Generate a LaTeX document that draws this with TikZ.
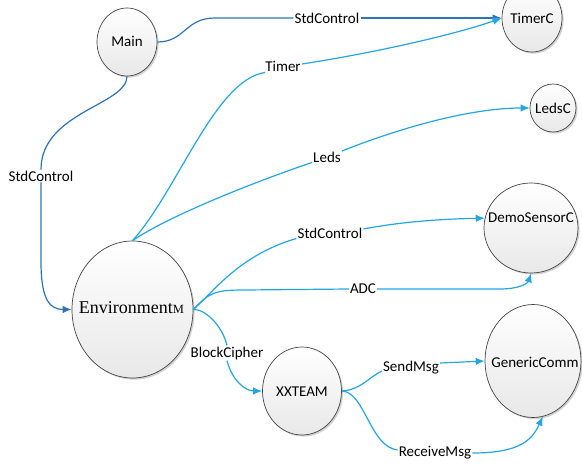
\documentclass[tikz,border=0pt]{standalone}
\usepackage{fontspec}
\setmainfont{Carlito}
\newfontfamily\envfont{Liberation Serif}
\usetikzlibrary{shapes.geometric,arrows.meta,shadows}
\definecolor{wireDark}{RGB}{46,117,182}
\definecolor{wireLight}{RGB}{36,166,226}
\definecolor{rimGray}{RGB}{70,70,70}
\tikzset{
  comp/.style={ellipse, draw=rimGray, line width=0.7pt, inner sep=0pt,
    top color=white, bottom color=black!9,
    drop shadow={shadow xshift=1.6pt, shadow yshift=-1.6pt, opacity=0.18, fill=black}},
  caption/.style={font=\fontsize{15}{18}\selectfont, inner sep=0pt},
  wlabel/.style={font=\fontsize{15}{18}\selectfont, inner sep=1pt, fill=white},
  dk/.style={draw=wireDark, line width=1.2pt},
  lt/.style={draw=wireLight, line width=1.2pt},
  tip/.style={-{Latex[length=9pt,width=7.5pt]}},
}
\begin{document}
\begin{tikzpicture}[x=1pt,y=-1pt]
\path[use as bounding box, fill=white] (0,0) rectangle (582,466);

% components (outline, then caption)
\node[comp, minimum width=60pt, minimum height=68pt] (Main) at (127,42) {};
\node[caption] (MainText) at (127,41) {Main};
\node[comp, minimum width=60pt, minimum height=68pt] (TimerC) at (532,18) {};
\node[caption] (TimerCText) at (532,18) {TimerC};
\node[comp, minimum width=46pt, minimum height=48pt] (LedsC) at (553,108) {};
\node[caption] (LedsCText) at (553,108) {LedsC};
\node[comp, minimum width=94pt, minimum height=90pt] (Demo) at (531,228) {};
\node[caption] (DemoText) at (531,218) {DemoSensorC};
\node[comp, minimum width=96pt, minimum height=113pt] (GC) at (533,361) {};
\node[caption] (GCText) at (535,362) {GenericComm};
\node[comp, minimum width=79pt, minimum height=88pt] (XX) at (302,391) {};
\node[caption] (XXText) at (302,392) {XXTEAM};
\node[comp, minimum width=121pt, minimum height=137pt] (Env) at (132.5,309.5) {};
\node[caption] (EnvText) at (131.5,308)
  {\envfont\fontsize{18}{20}\selectfont Environment\fontsize{12.5}{14}\selectfont M};

% interface labels
\node[wlabel] (sc1) at (327,18) {StdControl};
\node[wlabel] (sc2) at (41,176) {StdControl};
\node[wlabel] (timer) at (283,66) {Timer};
\node[wlabel] (leds) at (327,157) {Leds};
\node[wlabel] (sc3) at (330,233) {StdControl};
\node[wlabel] (adc) at (363,289) {ADC};
\node[wlabel] (bc) at (227,353) {BlockCipher};
\node[wlabel] (send) at (411,368) {SendMsg};
\node[wlabel] (recv) at (435,453) {ReceiveMsg};

% Main wiring
\draw[dk] (Main.east) .. controls (185,42) and (185,18) .. (215,18) -- (sc1.west);
\draw[dk,tip] (sc1.east) -- (TimerC.west);
\draw[dk] (Main.south) .. controls (127,105) and (41,112) .. (sc2.north);
\draw[dk,tip] (sc2.south) -- (41,262) .. controls (41,300) and (50,309.5) .. (Env.west);

% EnvironmentM wiring
\draw[lt] (Env.north) .. controls (178,190) and (215,80) .. ([xshift=1pt]timer.south west);
\draw[lt,tip] ([yshift=2pt]timer.east) .. controls (380,52) and (460,33) .. (TimerC.west);
\draw[lt] (Env.north) .. controls (170,215) and (260,180) .. ([yshift=1pt]leds.south west);
\draw[lt,tip] ([yshift=6pt]leds.east) .. controls (400,128) and (470,108) .. (LedsC.west);
\draw[lt] (Env.east) .. controls (215,290) and (240,255) .. ([yshift=1pt]sc3.south west);
\draw[lt,tip] ([yshift=4pt]sc3.east) .. controls (400,222) and (440,219) .. (Demo.168);
\draw[lt] (Env.east) .. controls (210,292) and (215,290) .. (245,290) -- (adc.west);
\draw[lt,tip] (adc.east) -- (500,289) .. controls (520,289) and (528,283) .. (Demo.south);
\draw[lt] (Env.east) .. controls (205,309) and (222,325) .. (bc.north);
\draw[lt,tip] (bc.south) .. controls (232,380) and (245,391) .. (XX.west);

% XXTEAM wiring
\draw[lt] (XX.east) .. controls (360,390) and (368,378) .. ([yshift=-3pt]send.west);
\draw[lt,tip] ([yshift=5pt]send.east) -- (GC.west);
\draw[lt] (XX.east) .. controls (365,392) and (370,447) .. ([yshift=3pt]recv.west);
\draw[lt,tip] (recv.east) .. controls (520,453) and (532,440) .. (GC.-80);
\end{tikzpicture}
\end{document}
